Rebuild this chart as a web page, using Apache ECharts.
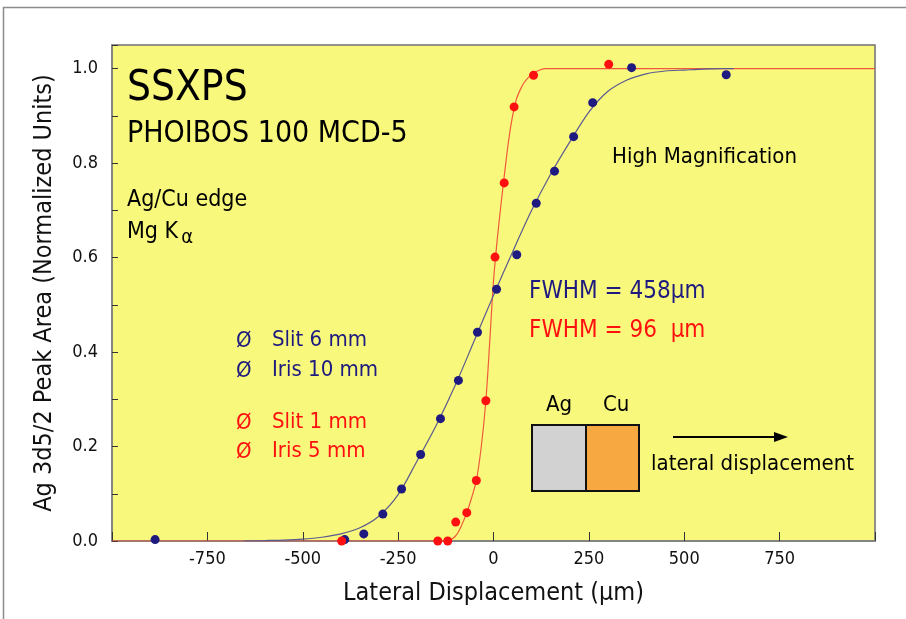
<!DOCTYPE html>
<html><head><meta charset="utf-8">
<script src="https://cdn.jsdelivr.net/npm/echarts@6/dist/echarts.min.js"></script>
<style>html,body{margin:0;padding:0;background:#fff}#c{width:906px;height:619px}</style>
</head><body><div id="c"></div>
<script>
// ---- data ----
const xTicks = [-750, -500, -250, 0, 250, 500, 750];
const yTicks = [0.0, 0.2, 0.4, 0.6, 0.8, 1.0];

// wide aperture (Slit 6 mm / Iris 10 mm) measured points
const blueX = [-887, -390, -340, -290, -241, -191, -139, -92, -42, 8, 61, 112, 160, 210, 260, 362, 610];
const blueY = [0.003, 0.003, 0.015, 0.057, 0.110, 0.183, 0.259, 0.340, 0.442, 0.533, 0.606, 0.715, 0.783, 0.856, 0.928, 1.002, 0.987];

// narrow aperture (Slit 1 mm / Iris 5 mm) measured points
const redX = [-398, -146, -120, -99, -70, -45, -20, 4, 28, 54, 105, 302];
const redY = [0.000, 0.000, 0.000, 0.040, 0.060, 0.128, 0.297, 0.601, 0.758, 0.919, 0.986, 1.009];

// fitted curve for the wide aperture (FWHM 458 um)
const blueFitX = [-655, -600, -550, -500, -450, -400, -350, -300, -250, -200, -150, -100, -50, 0, 50, 100, 150, 200, 250, 300, 350, 400, 450, 500, 550, 600, 630];
const blueFitY = [0.000, 0.001, 0.002, 0.004, 0.008, 0.015, 0.028, 0.053, 0.098, 0.170, 0.245, 0.330, 0.425, 0.520, 0.612, 0.700, 0.777, 0.845, 0.908, 0.952, 0.976, 0.989, 0.995, 0.997, 0.999, 1.000, 1.000];

// fitted curve for the narrow aperture (FWHM 96 um)
const redFitX = [-1000, -150, -115, -100, -87, -70, -58, -45, -32, -20, -10, 0, 10, 20, 30, 40, 50, 60, 70, 80, 90, 100, 115, 135, 1000];
const redFitY = [0.000, 0.000, 0.002, 0.010, 0.027, 0.060, 0.090, 0.128, 0.200, 0.297, 0.420, 0.550, 0.640, 0.715, 0.785, 0.850, 0.900, 0.935, 0.955, 0.970, 0.980, 0.988, 0.995, 1.000, 1.000];

const NAVY = '#1e1a80', RED = '#ff1010';
const FONT = '"Liberation Sans Narrow", "DejaVu Sans Condensed", "Liberation Sans", sans-serif';
const zip = (a, b) => a.map((v, i) => [v, b[i]]);

const chart = echarts.init(document.getElementById('c'), null, {renderer: 'canvas'});
const txt = (x, y, text, size, color, extra) => Object.assign({
  type: 'text', left: x, top: y, z: 20,
  style: {text: text, fontSize: size, fill: color, fontFamily: FONT}
}, extra || {});

chart.setOption({
  animation: false,
  backgroundColor: '#ffffff',
  grid: {left: 112, right: 31, top: 45, bottom: 78, show: true,
         backgroundColor: '#f8f87c', borderColor: '#707070', borderWidth: 1.5},
  xAxis: {
    type: 'value', min: -1000, max: 1000, interval: 250,
    name: 'Lateral Displacement (\u00b5m)', nameLocation: 'middle', nameGap: 40,
    nameTextStyle: {fontSize: 25, color: '#111', fontFamily: FONT},
    axisLine: {show: true, onZero: false, lineStyle: {color: '#808080', width: 1.5}},
    axisTick: {show: true, inside: true, length: 9, lineStyle: {color: '#333'}},
    axisLabel: {fontSize: 18, color: '#111', fontFamily: FONT, margin: 9,
      formatter: v => (xTicks.indexOf(v) >= 0 ? String(v) : '')},
    splitLine: {show: false}
  },
  yAxis: {
    type: 'value', min: 0, max: 1.05, interval: 0.1,
    name: 'Ag 3d5/2 Peak Area (Normalized Units)', nameLocation: 'middle', nameGap: 55,
    nameTextStyle: {fontSize: 25, color: '#111', fontFamily: FONT},
    axisLine: {show: true, onZero: false, lineStyle: {color: '#808080', width: 1.5}},
    axisTick: {show: true, inside: true, length: 6, lineStyle: {color: '#333'}},
    axisLabel: {fontSize: 18, color: '#111', fontFamily: FONT, margin: 14,
      formatter: v => {
        const m = yTicks.find(t => Math.abs(t - v) < 1e-6);
        return m === undefined ? '' : m.toFixed(1);
      }},
    splitLine: {show: false}
  },
  series: [
    {type: 'line', data: zip(redFitX, redFitY), smooth: 0.3, showSymbol: false, z: 2,
     lineStyle: {color: '#f05a3c', width: 1.2}},
    {type: 'line', data: zip(blueFitX, blueFitY), smooth: 0.3, showSymbol: false, z: 3,
     lineStyle: {color: '#5a5a90', width: 1.2}},
    {type: 'scatter', data: zip(blueX, blueY), symbolSize: 9, z: 5,
     itemStyle: {color: NAVY, opacity: 1}},
    {type: 'scatter', data: zip(redX, redY), symbolSize: 9, z: 6,
     itemStyle: {color: RED, opacity: 1}}
  ],
  graphic: [
    {type: 'rect', shape: {x: 3.5, y: 7.5, width: 1000, height: 1000}, z: 0,
     style: {fill: null, stroke: '#8c8c8c', lineWidth: 1.5}},
    txt(127, 68, 'SSXPS', 42, '#000'),
    txt(127, 119, 'PHOIBOS 100 MCD-5', 30, '#000'),
    txt(127, 189, 'Ag/Cu edge', 23, '#000'),
    {type: 'text', left: 127, top: 221, z: 20,
     style: {text: 'Mg K{s|\u03b1}', fontSize: 23, fill: '#000', fontFamily: FONT,
       rich: {s: {fontSize: 20, fill: '#000', fontFamily: FONT, padding: [10, 0, 0, 3]}}}},
    txt(612, 146, 'High Magnification', 22, '#000'),
    txt(529, 280, 'FWHM = 458\u00b5m', 24, NAVY),
    txt(529, 319, 'FWHM = 96  \u00b5m', 24, RED),
    txt(236, 330, '\u00d8', 22, NAVY), txt(272, 329, 'Slit 6 mm', 22, NAVY),
    txt(236, 360, '\u00d8', 22, NAVY), txt(272, 359, 'Iris 10 mm', 22, NAVY),
    txt(236, 412, '\u00d8', 22, RED), txt(272, 411, 'Slit 1 mm', 22, RED),
    txt(236, 441, '\u00d8', 22, RED), txt(272, 440, 'Iris 5 mm', 22, RED),
    txt(546, 394, 'Ag', 22, '#000'),
    txt(603, 394, 'Cu', 22, '#000'),
    {type: 'rect', shape: {x: 532, y: 425, width: 54, height: 66}, z: 20,
     style: {fill: '#d2d2d2', stroke: '#111', lineWidth: 2}},
    {type: 'rect', shape: {x: 586, y: 425, width: 53, height: 66}, z: 20,
     style: {fill: '#f8a840', stroke: '#111', lineWidth: 2}},
    {type: 'line', shape: {x1: 673, y1: 437, x2: 780, y2: 437}, z: 20,
     style: {stroke: '#000', lineWidth: 2}},
    {type: 'polygon', shape: {points: [[788, 437], [774, 432], [774, 442]]}, z: 20,
     style: {fill: '#000'}},
    txt(651, 453, 'lateral displacement', 22, '#000')
  ]
});
</script>
</body></html>
